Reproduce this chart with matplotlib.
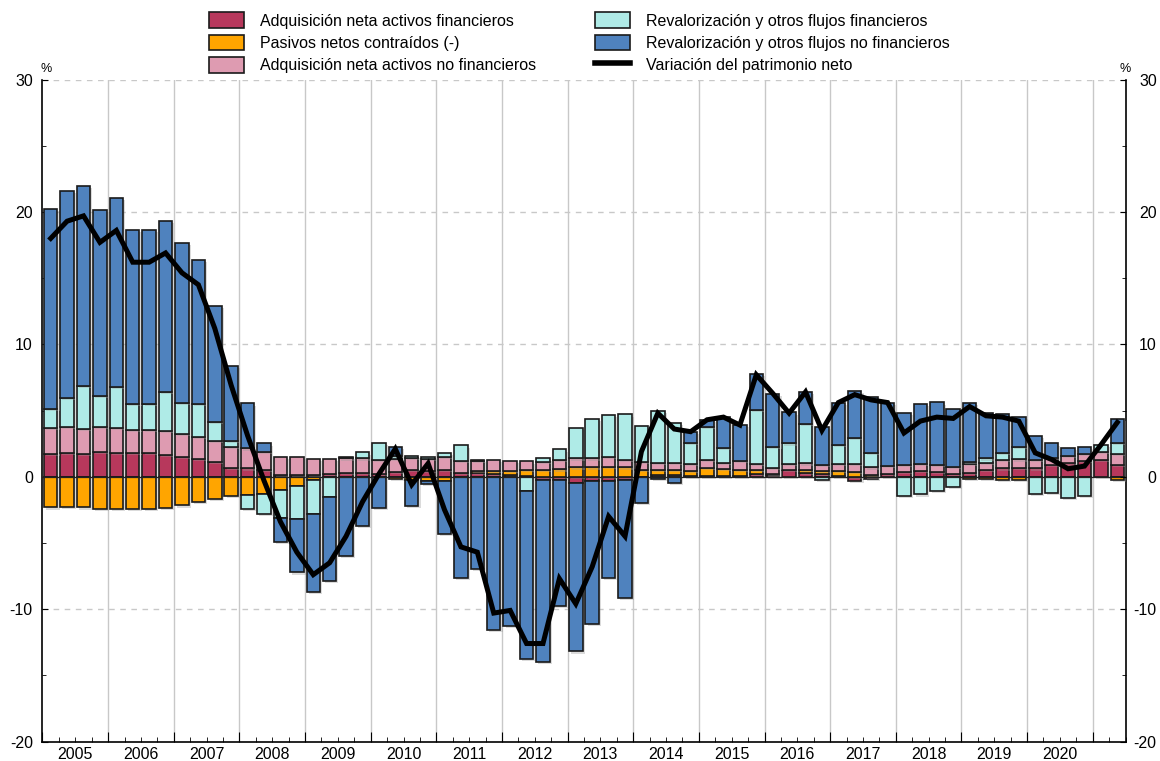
import numpy as np
import matplotlib
matplotlib.use("Agg")
import matplotlib.pyplot as plt
from matplotlib.patches import Patch
from matplotlib.lines import Line2D
import matplotlib.patheffects as pe

plt.rcParams['font.family'] = ['Liberation Sans', 'DejaVu Sans']
plt.rcParams['axes.unicode_minus'] = False

year_labels = [str(y) for y in range(2005, 2021)]

# 2005Q1 ... 2021Q2 (66 quarters)
act_fin = [1.71, 1.76, 1.69, 1.86, 1.76, 1.76, 1.76, 1.64, 1.51, 1.36, 1.11, 0.68,
           0.62, 0.49, 0.15, 0.10, 0.15, 0.20, 0.25, 0.25, 0.20, 0.33, 0.50, 0.45,
           0.54, 0.25, 0.30, 0.20, 0.16, 0.05, -0.25, -0.25, -0.50, -0.30, -0.30, -0.25,
           0.00, 0.10, 0.15, 0.04, 0.06, 0.02, 0.03, 0.19, 0.10, 0.50, 0.30, 0.20,
           0.04, -0.30, -0.18, 0.24, 0.34, 0.44, 0.37, 0.19, 0.30, 0.50, 0.62, 0.67,
           0.62, 0.87, 1.00, 1.20, 1.25, 0.92]
pasivos = [-2.32, -2.27, -2.32, -2.47, -2.47, -2.47, -2.42, -2.37, -2.17, -1.91, -1.71, -1.46,
           -1.40, -1.27, -0.97, -0.69, -0.25, -0.05, 0.00, 0.00, 0.00, -0.20, -0.25, -0.33,
           -0.30, 0.00, 0.13, 0.25, 0.28, 0.45, 0.50, 0.55, 0.70, 0.70, 0.76, 0.70,
           0.50, 0.38, 0.33, 0.40, 0.63, 0.55, 0.50, 0.30, 0.13, 0.00, 0.20, 0.25,
           0.40, 0.37, 0.15, 0.00, 0.00, 0.00, 0.00, 0.00, -0.20, -0.20, -0.25, -0.25,
           0.00, 0.00, 0.00, 0.00, 0.00, -0.25]
act_nofin = [1.99, 1.99, 1.89, 1.89, 1.94, 1.79, 1.79, 1.81, 1.69, 1.66, 1.61, 1.59,
             1.51, 1.39, 1.36, 1.39, 1.18, 1.13, 1.13, 1.13, 1.08, 1.00, 0.90, 0.88,
             0.95, 0.93, 0.76, 0.81, 0.76, 0.65, 0.63, 0.70, 0.68, 0.68, 0.76, 0.55,
             0.63, 0.55, 0.58, 0.55, 0.55, 0.50, 0.63, 0.50, 0.45, 0.45, 0.50, 0.43,
             0.50, 0.58, 0.55, 0.58, 0.52, 0.55, 0.55, 0.55, 0.63, 0.55, 0.63, 0.63,
             0.63, 0.58, 0.55, 0.55, 0.63, 0.78]
reval_fin = [1.44, 2.17, 3.30, 2.34, 3.05, 1.96, 1.91, 2.95, 2.37, 2.44, 1.44, 0.45,
             -1.01, -1.51, -2.12, -2.54, -2.57, -1.47, 0.10, 0.45, 1.26, 0.25, 0.18, 0.18,
             0.30, 1.18, 0.10, 0.00, 0.00, -1.07, 0.25, 0.81, 2.27, 2.95, 3.15, 3.45,
             2.72, 3.93, 3.02, 1.56, 2.52, 1.08, 0.00, 4.08, 1.56, 1.56, 2.97, -0.25,
             1.44, 1.99, 1.06, 0.00, -1.44, -1.34, -1.08, -0.76, 0.18, 0.33, 0.55, 0.96,
             -1.31, -1.26, -1.64, -1.46, 0.50, 0.88]
reval_nofin = [15.09, 15.64, 15.09, 14.06, 14.28, 13.12, 13.15, 12.91, 12.06, 10.91, 8.74, 5.67,
               3.40, 0.63, -1.84, -4.00, -5.87, -6.35, -6.00, -3.73, -2.33, 0.70, -1.97, -0.23,
               -4.00, -7.68, -7.00, -11.60, -11.30, -12.67, -13.73, -9.50, -12.70, -10.80, -7.38, -8.94,
               -1.95, -0.18, -0.45, 0.83, 0.50, 2.34, 2.77, 2.67, 4.03, 2.34, 2.44, 2.85,
               3.22, 3.55, 4.23, 4.76, 3.92, 4.53, 4.69, 4.41, 4.43, 3.45, 2.92, 2.22,
               1.81, 1.06, 0.65, 0.50, 0.00, 1.81]
patrimonio = [18.0, 19.3, 19.7, 17.7, 18.6, 16.2, 16.2, 16.9, 15.4, 14.5, 11.2, 6.9,
              3.1, -0.3, -3.4, -5.7, -7.4, -6.5, -4.5, -1.9, 0.2, 2.1, -0.6, 1.0,
              -2.5, -5.3, -5.7, -10.3, -10.1, -12.6, -12.6, -7.7, -9.6, -6.8, -3.0, -4.5,
              1.9, 4.8, 3.6, 3.4, 4.3, 4.5, 3.9, 7.7, 6.3, 4.8, 6.4, 3.5,
              5.6, 6.2, 5.8, 5.6, 3.3, 4.2, 4.5, 4.4, 5.3, 4.6, 4.5, 4.2,
              1.8, 1.3, 0.6, 0.8, 2.4, 4.1]

series = [
    (act_fin, '#B7385C', 'Adquisición neta activos financieros'),
    (pasivos, '#FFA500', 'Pasivos netos contraídos (-)'),
    (act_nofin, '#DE9BB1', 'Adquisición neta activos no financieros'),
    (reval_fin, '#AFEBE7', 'Revalorización y otros flujos financieros'),
    (reval_nofin, '#4F82BE', 'Revalorización y otros flujos no financieros'),
]
line_label = 'Variación del patrimonio neto'

W, H = 1160, 761
FS = 11.5
fig = plt.figure(figsize=(W / 100, H / 100), dpi=100)
ax = fig.add_axes([42.5 / W, 19.5 / H, (1125.5 - 42.5) / W, 662 / H])

n = len(patrimonio)
x = np.arange(n)
pos = np.zeros(n)
neg = np.zeros(n)
shadow = [pe.SimplePatchShadow(offset=(1.5, -1.5), shadow_rgbFace='#999999', alpha=0.35), pe.Normal()]
for vals, col, lab in series:
    v = np.array(vals, dtype=float)
    bottom = np.where(v >= 0, pos, neg)
    m = v != 0
    bars = ax.bar(x[m], v[m], width=0.82, bottom=bottom[m], color=col,
                  edgecolor='#1a1a1a', linewidth=1.2, zorder=3)
    for b in bars:
        b.set_path_effects(shadow)
    pos += np.where(v > 0, v, 0)
    neg += np.where(v < 0, v, 0)

ax.plot(x, patrimonio, color='black', lw=3.6, zorder=6, solid_joinstyle='miter')

ax.set_xlim(-0.5, n - 0.5)
ax.set_ylim(-20, 30)

for yv in [-10, 10, 20, 30]:
    ax.axhline(yv, color='#c8c8c8', lw=1, ls=(0, (4, 4)), zorder=0)
for k in range(16):
    ax.axvline(3.5 + 4 * k, color='#c8c8c8', lw=1, zorder=0)
ax.axhline(0, color='#222222', lw=0.9, zorder=4)

for s in ['left', 'right', 'bottom']:
    ax.spines[s].set_color('black')
    ax.spines[s].set_linewidth(1.2)
ax.spines['top'].set_visible(False)

yt = [-20, -10, 0, 10, 20, 30]
ax.set_yticks(yt)
ax.set_yticks(np.arange(-20, 31, 5), minor=True)
ax.tick_params(axis='y', which='both', direction='in', left=True, right=False,
               labelleft=True, labelright=False, labelsize=FS, pad=7)
ax.tick_params(axis='y', which='major', length=4)
ax.tick_params(axis='y', which='minor', length=3)

ax2 = ax.twinx()
ax2.set_ylim(-20, 30)
ax2.set_yticks(yt)
ax2.set_yticks(np.arange(-20, 31, 5), minor=True)
ax2.tick_params(axis='y', which='both', direction='in', right=True, labelright=True,
                labelsize=FS, pad=22.5)
ax2.tick_params(axis='y', which='major', length=4)
ax2.tick_params(axis='y', which='minor', length=3)
for lbl in ax2.get_yticklabels():
    lbl.set_horizontalalignment('right')
for s in ax2.spines.values():
    s.set_visible(False)

ax.set_xticks([3.5 + 4 * k for k in range(16)] + [-0.5])
ax.set_xticks(np.arange(-0.5, n, 1), minor=True)
ax.tick_params(axis='x', which='major', direction='in', length=7, labelbottom=False)
ax.tick_params(axis='x', which='minor', direction='in', length=3.5)

for i, lab in enumerate(year_labels):
    ax.text(1.5 + 4 * i, -13 / 662, lab, transform=ax.get_xaxis_transform(),
            ha='center', va='center', fontsize=FS)

fig.text(46 / W, 1 - 69 / H, '%', fontsize=9, ha='center', va='center')
fig.text(1125.5 / W, 1 - 69 / H, '%', fontsize=9, ha='center', va='center')

handles = [Patch(facecolor=c, edgecolor='#1a1a1a', linewidth=1.2) for _, c, _ in series]
labels = [l for _, _, l in series]
handles.append(Line2D([], [], color='black', lw=4))
labels.append(line_label)
leg = fig.legend(handles, labels, ncol=2, loc='upper left',
                 bbox_to_anchor=(209 / W, 1 - 12.5 / H), frameon=False, fontsize=FS,
                 handlelength=2.19, handleheight=1.15, handletextpad=1.0,
                 labelspacing=0.36, columnspacing=3.7, borderpad=0, borderaxespad=0)

fig.savefig('out.png', dpi=100)
